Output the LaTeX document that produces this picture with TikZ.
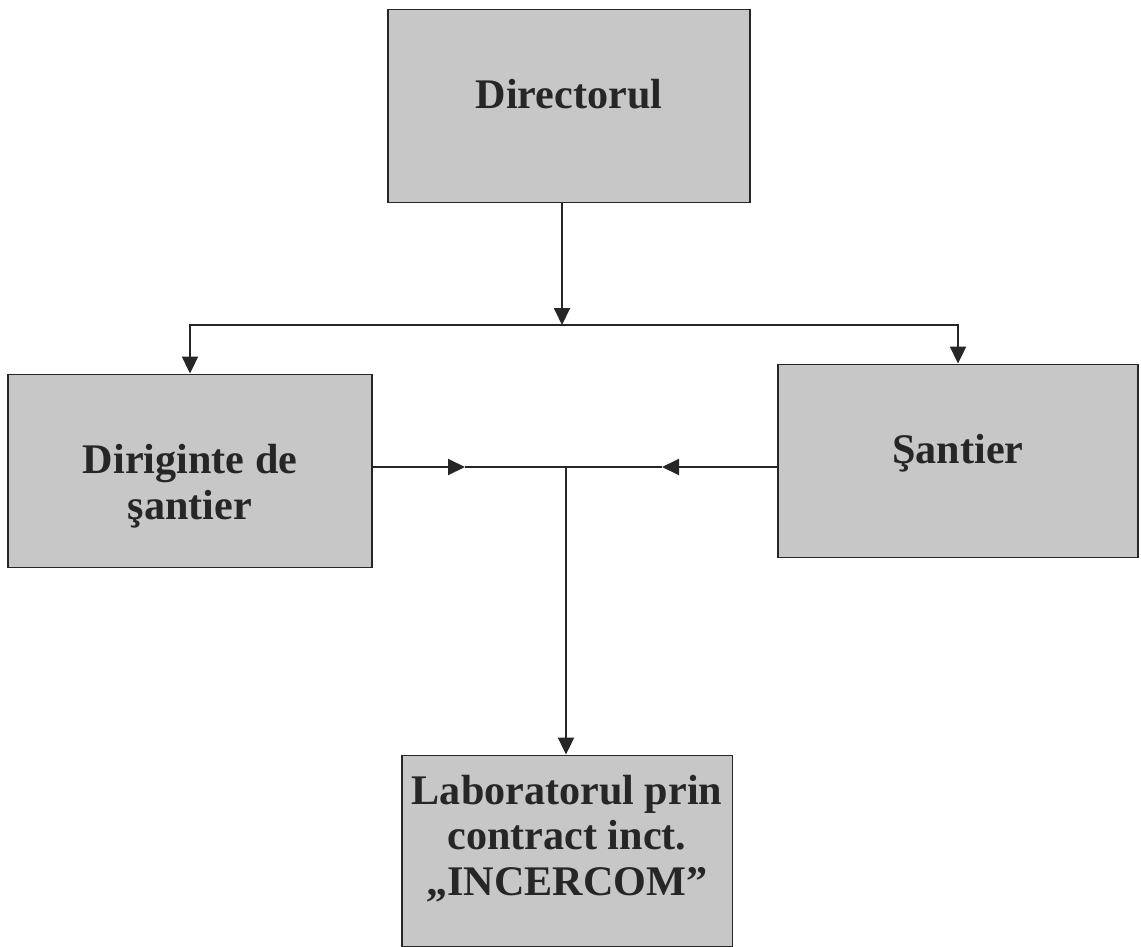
\documentclass[tikz,border=0pt]{standalone}
\usepackage{fontspec}
\setmainfont{Liberation Serif}
\usetikzlibrary{arrows.meta, positioning}
\usepackage{xcolor}

\begin{document}
\begin{tikzpicture}[
  x=0.02cm, y=-0.02cm,
  box/.style={rectangle, draw=black!85, line width=1.1pt, minimum width=7.24cm, minimum height=3.86cm, align=center, fill=black!22, text=black!85, font=\fontsize{24}{26}\selectfont\bfseries},
  link/.style={draw=black!85, line width=1.1pt},
  >={Triangle[length=0.34cm, width=0.32cm]}
]
\useasboundingbox (0,0) rectangle (1141,946);

\node[box] (dir) at (569,106) {Directorul\rule[-14pt]{0pt}{14pt}};
\node[box, minimum width=7.28cm] (dirig) at (190,471) {\rule{0pt}{34pt}Diriginte de\\şantier};
\node[box, minimum width=7.2cm] (sant) at (958,461) {Şantier\rule[-14pt]{0pt}{14pt}};
\node[box, minimum width=6.62cm, minimum height=3.82cm] (lab) at (567,851) {Laboratorul prin\\contract inct.\\„INCERCOM”\rule[-18pt]{0pt}{18pt}};

\coordinate (split) at (562,325);
\coordinate (jl) at (465,467);
\coordinate (jn) at (566,467);
\coordinate (jr) at (662,467);

\draw[link, ->] (split |- dir.south) -- (split);
\draw[link, ->] (split) -| (dirig.north);
\draw[link, ->] (split) -| (sant.north);

\draw[link, ->] (dirig.east |- jl) -- (jl);
\draw[link] (jl) -- (jr);
\draw[link, ->] (sant.west |- jr) -- (jr);
\draw[link, ->] (jn) -- (jn |- lab.north);
\end{tikzpicture}
\end{document}
